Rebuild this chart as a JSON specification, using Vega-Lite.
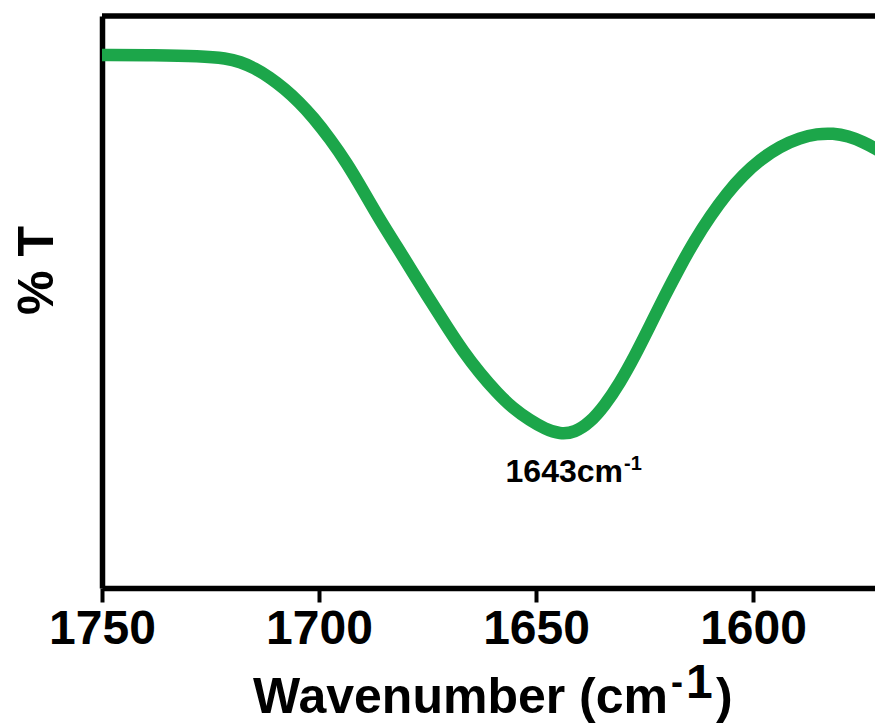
{
  "$schema": "https://vega.github.io/schema/vega-lite/v6.json",
  "width": 773,
  "height": 572,
  "autosize": {"type": "none"},
  "padding": {"left": 102, "top": 16, "right": 0, "bottom": 137},
  "background": "#ffffff",
  "config": {"view": {"stroke": null}},
  "datasets": {
    "spectrum": [
      {"w": 1750.0, "t": 93.2},
      {"w": 1737.96, "t": 93.15},
      {"w": 1727.44, "t": 93.0},
      {"w": 1721.24, "t": 92.6},
      {"w": 1718.19, "t": 92.0},
      {"w": 1714.84, "t": 90.9},
      {"w": 1711.4, "t": 89.3},
      {"w": 1707.96, "t": 87.3},
      {"w": 1704.51, "t": 84.9},
      {"w": 1701.36, "t": 82.3},
      {"w": 1697.43, "t": 78.5},
      {"w": 1693.59, "t": 74.3},
      {"w": 1689.85, "t": 69.5},
      {"w": 1685.92, "t": 64.3},
      {"w": 1681.98, "t": 59.6},
      {"w": 1678.34, "t": 55.1},
      {"w": 1674.41, "t": 50.3},
      {"w": 1670.47, "t": 45.6},
      {"w": 1666.83, "t": 41.4},
      {"w": 1662.9, "t": 37.5},
      {"w": 1658.96, "t": 34.1},
      {"w": 1655.32, "t": 31.4},
      {"w": 1651.38, "t": 29.3},
      {"w": 1647.94, "t": 27.8},
      {"w": 1644.5, "t": 26.9},
      {"w": 1641.05, "t": 27.2},
      {"w": 1637.61, "t": 28.9},
      {"w": 1634.17, "t": 31.9},
      {"w": 1630.72, "t": 35.8},
      {"w": 1627.28, "t": 40.5},
      {"w": 1623.84, "t": 45.7},
      {"w": 1620.39, "t": 51.0},
      {"w": 1616.95, "t": 56.0},
      {"w": 1613.51, "t": 60.7},
      {"w": 1609.87, "t": 65.0},
      {"w": 1606.03, "t": 69.0},
      {"w": 1602.29, "t": 72.2},
      {"w": 1598.35, "t": 74.9},
      {"w": 1593.83, "t": 77.2},
      {"w": 1589.2, "t": 78.7},
      {"w": 1585.27, "t": 79.4},
      {"w": 1581.53, "t": 79.5},
      {"w": 1578.09, "t": 79.0},
      {"w": 1574.64, "t": 78.0},
      {"w": 1571.2, "t": 76.6},
      {"w": 1569.5, "t": 75.7}
    ],
    "labels": [
      {"w": 1629.96, "t": 18.5, "text": "1643cm", "part": "ann"},
      {"w": 1629.73, "t": 20.6, "text": "-1", "part": "annsup"},
      {"w": 1619.59, "t": -21.85, "text": "Wavenumber (cm", "part": "title"},
      {"w": 1618.9, "t": -18.5, "text": "-", "part": "titleminus"},
      {"w": 1615.44, "t": -19.23, "text": "1", "part": "titleone"},
      {"w": 1608.53, "t": -21.85, "text": ")", "part": "titleclose"}
    ]
  },
  "layer": [
    {
      "data": {"values": [{}]},
      "mark": {"type": "rule", "stroke": "#000000", "strokeWidth": 5.5},
      "encoding": {"y": {"datum": 100, "type": "quantitative", "scale": {"domain": [0, 100]}}}
    },
    {
      "data": {"name": "spectrum"},
      "mark": {"type": "line", "stroke": "#1ca64a", "strokeWidth": 12.5, "interpolate": "basis", "strokeCap": "butt", "clip": true},
      "encoding": {
        "x": {
          "field": "w",
          "type": "quantitative",
          "scale": {"domain": [1571.9, 1750], "reverse": true, "nice": false, "zero": false},
          "axis": {
            "values": [1750, 1700, 1650, 1600],
            "format": "d",
            "title": null,
            "grid": false,
            "domainColor": "#000000",
            "domainWidth": 5.5,
            "tickColor": "#000000",
            "tickWidth": 4,
            "tickSize": 14,
            "labelFont": "Liberation Sans",
            "labelFontWeight": "bold",
            "labelFontSize": 48,
            "labelColor": "#000000",
            "labelPadding": 3,
            "labelFlush": false,
            "labelOverlap": false
          }
        },
        "y": {
          "field": "t",
          "type": "quantitative",
          "scale": {"domain": [0, 100], "nice": false, "zero": false},
          "axis": {
            "title": "% T",
            "titleFont": "Liberation Sans",
            "titleFontWeight": "bold",
            "titleFontSize": 50,
            "titleColor": "#000000",
            "titleAngle": -90,
            "titleX": -50,
            "titleY": 254,
            "titleAlign": "center",
            "titleBaseline": "alphabetic",
            "labels": false,
            "ticks": false,
            "grid": false,
            "domainColor": "#000000",
            "domainWidth": 5.5
          }
        }
      }
    },
    {
      "data": {"name": "labels"},
      "transform": [{"filter": "datum.part == 'ann'"}],
      "mark": {"type": "text", "font": "Liberation Sans", "fontWeight": "bold", "fontSize": 32, "align": "right", "baseline": "alphabetic", "color": "#000000"},
      "encoding": {"x": {"field": "w", "type": "quantitative"}, "y": {"field": "t", "type": "quantitative"}, "text": {"field": "text"}}
    },
    {
      "data": {"name": "labels"},
      "transform": [{"filter": "datum.part == 'annsup'"}],
      "mark": {"type": "text", "font": "Liberation Sans", "fontWeight": "bold", "fontSize": 20, "align": "left", "baseline": "alphabetic", "color": "#000000"},
      "encoding": {"x": {"field": "w", "type": "quantitative"}, "y": {"field": "t", "type": "quantitative"}, "text": {"field": "text"}}
    },
    {
      "data": {"name": "labels"},
      "transform": [{"filter": "datum.part == 'title'"}],
      "mark": {"type": "text", "font": "Liberation Sans", "fontWeight": "bold", "fontSize": 50, "align": "right", "baseline": "alphabetic", "color": "#000000"},
      "encoding": {"x": {"field": "w", "type": "quantitative"}, "y": {"field": "t", "type": "quantitative"}, "text": {"field": "text"}}
    },
    {
      "data": {"name": "labels"},
      "transform": [{"filter": "datum.part == 'titleminus'"}],
      "mark": {"type": "text", "font": "Liberation Sans", "fontWeight": "bold", "fontSize": 36, "align": "left", "baseline": "alphabetic", "color": "#000000"},
      "encoding": {"x": {"field": "w", "type": "quantitative"}, "y": {"field": "t", "type": "quantitative"}, "text": {"field": "text"}}
    },
    {
      "data": {"name": "labels"},
      "transform": [{"filter": "datum.part == 'titleone'"}],
      "mark": {"type": "text", "font": "Liberation Sans", "fontWeight": "bold", "fontSize": 48, "align": "left", "baseline": "alphabetic", "color": "#000000"},
      "encoding": {"x": {"field": "w", "type": "quantitative"}, "y": {"field": "t", "type": "quantitative"}, "text": {"field": "text"}}
    },
    {
      "data": {"name": "labels"},
      "transform": [{"filter": "datum.part == 'titleclose'"}],
      "mark": {"type": "text", "font": "Liberation Sans", "fontWeight": "bold", "fontSize": 50, "align": "left", "baseline": "alphabetic", "color": "#000000"},
      "encoding": {"x": {"field": "w", "type": "quantitative"}, "y": {"field": "t", "type": "quantitative"}, "text": {"field": "text"}}
    }
  ]
}
